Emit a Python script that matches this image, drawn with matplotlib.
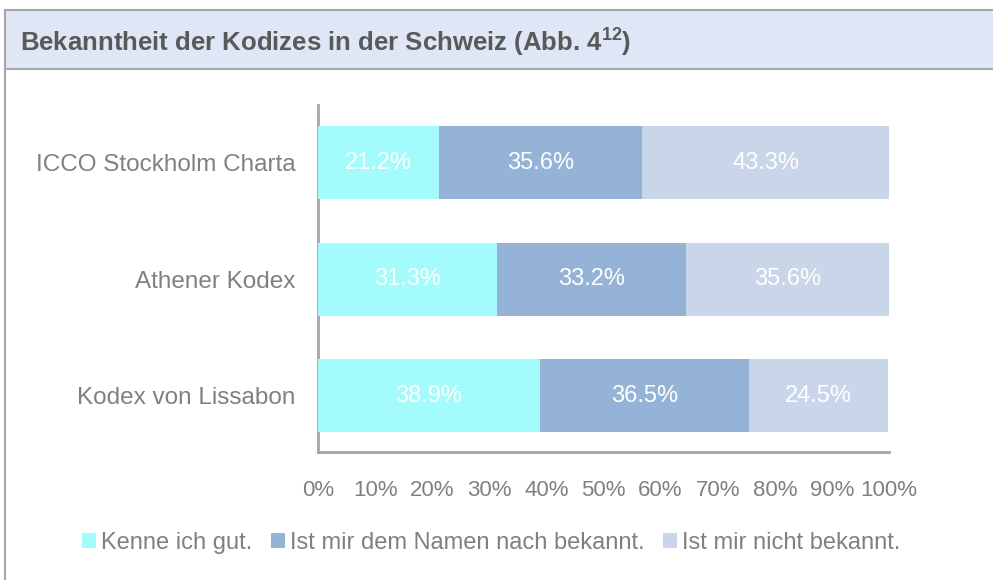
import matplotlib
matplotlib.use("Agg")
import matplotlib.pyplot as plt
from matplotlib.patches import Rectangle
from matplotlib.lines import Line2D
import numpy as np

plt.rcParams.update({
    "font.family": ["Liberation Sans", "DejaVu Sans"],
})

# Daten
categories = ["Kodex von Lissabon", "Athener Kodex", "ICCO Stockholm Charta"]
series_names = ["Kenne ich gut.", "Ist mir dem Namen nach bekannt.", "Ist mir nicht bekannt."]
gut = [38.9, 31.3, 21.2]
namen = [36.5, 33.2, 35.6]
nicht = [24.5, 35.6, 43.3]
x_ticks = [0, 10, 20, 30, 40, 50, 60, 70, 80, 90, 100]

CYAN = "#a3fbfc"
MID = "#95b3d7"
LIGHT = "#c9d5e8"
GRAY_TXT = "#808080"
GRAY_LINE = "#a6a6a6"

fig = plt.figure(figsize=(9.93, 5.80), dpi=100)

# Kopfzeile
fig.patches.append(Rectangle((5 / 993, 1 - 69 / 580), 1, 59 / 580, transform=fig.transFigure,
                             facecolor="#dfe6f5", edgecolor="none", zorder=0))
fig.add_artist(Line2D([5 / 993, 1], [1 - 10 / 580] * 2, color=GRAY_LINE, lw=1.5))
fig.add_artist(Line2D([5 / 993, 1], [1 - 69 / 580] * 2, color=GRAY_LINE, lw=1.5))
fig.add_artist(Line2D([5 / 993] * 2, [0, 1 - 10 / 580], color=GRAY_LINE, lw=1.5))
fig.text(20 / 993, 1 - 42 / 580, r"Bekanntheit der Kodizes in der Schweiz (Abb. 4$^{\mathregular{12}}$)",
         fontsize=18.5, fontweight="bold", color="#595959", va="center", ha="left")

ax = fig.add_axes([318 / 993, 128 / 580, 571 / 993, 347 / 580])
y = np.arange(len(categories))
h = 0.627
left = np.zeros(len(categories))
for vals, color, name in zip([gut, namen, nicht], [CYAN, MID, LIGHT], series_names):
    bars = ax.barh(y, vals, left=left, height=h, color=color, label=name, zorder=3)
    for b, v in zip(bars, vals):
        ax.text(b.get_x() + b.get_width() / 2, b.get_y() + b.get_height() / 2, f"{v:.1f}%",
                ha="center", va="center", color="white", fontsize=17)
    left += np.array(vals)

ax.set_xlim(0, 100)
ax.set_ylim(-0.485, 2.494)
ax.set_yticks(y)
ax.set_yticklabels(categories, fontsize=17.5, color=GRAY_TXT)
ax.set_xticks(x_ticks)
ax.set_xticklabels([f"{t}%" for t in x_ticks], fontsize=16, color=GRAY_TXT)
ax.tick_params(axis="both", length=0)
ax.tick_params(axis="x", pad=20)
ax.tick_params(axis="y", pad=16)
for s in ["top", "right"]:
    ax.spines[s].set_visible(False)
for s in ["left", "bottom"]:
    ax.spines[s].set_color(GRAY_LINE)
    ax.spines[s].set_linewidth(2)

fig.legend(loc="center", bbox_to_anchor=(491 / 993, 1 - 543 / 580), ncol=3, frameon=False,
           fontsize=17, labelcolor=GRAY_TXT, handlelength=0.6, handleheight=0.6,
           handletextpad=0.2, columnspacing=0.8)

fig.savefig("out.png", dpi=100)
